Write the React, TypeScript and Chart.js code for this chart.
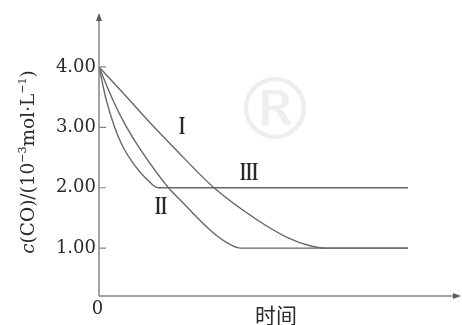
import React, { useEffect, useRef } from "react";
import { Chart, registerables } from "chart.js";

Chart.register(...registerables);

const W = 462;
const H = 325;

// Curve I
const curveITimes = [0, 3.0, 5.2, 7.4, 11.5, 15.8, 18.8, 21.1, 22.6, 30.9];
const curveIValues = [4.0, 3.46, 3.06, 2.68, 2.0, 1.47, 1.18, 1.04, 1.0, 1.0];
// Curve II
const curveIITimes = [0, 1.4, 2.7, 4.0, 6.95, 8.35, 9.85, 11.45, 12.7, 14.2, 30.9];
const curveIIValues = [4.0, 3.45, 3.02, 2.67, 2.0, 1.76, 1.5, 1.25, 1.1, 1.0, 1.0];
// Curve III
const curveIIITimes = [0, 0.73, 1.53, 2.33, 3.53, 4.73, 5.93, 30.9];
const curveIIIValues = [4.0, 3.45, 3.02, 2.7, 2.38, 2.15, 2.0, 2.0];

const yTickValues = [1, 2, 3, 4];
const curveLabels = ["I", "II", "III"];
const curveLabelTimes = [8.3, 6.2, 15.0];
const curveLabelValues = [3.0, 1.67, 2.23];
const xOriginLabel = "0";
const xAxisTitle = "时间";
const yTitleParts = [
  { text: "c", italic: true, sup: false },
  { text: "(CO)/(10", italic: false, sup: false },
  { text: "−3", italic: false, sup: true },
  { text: "mol·L", italic: false, sup: false },
  { text: "−1", italic: false, sup: true },
  { text: ")", italic: false, sup: false },
];
const watermarkText = "®";

const toPoints = (ts: number[], vs: number[]) => ts.map((t, i) => ({ x: t, y: vs[i] }));

export default function App() {
  const ref = useRef<HTMLCanvasElement>(null);

  useEffect(() => {
    const canvas = ref.current;
    if (!canvas) return;
    const axisColor = "#858585";
    const textColor = "#2a2a2a";

    const overlay = {
      id: "overlay",
      beforeDatasetsDraw(chart: any) {
        const ctx = chart.ctx;
        const xs = chart.scales.x;
        const ys = chart.scales.y;
        ctx.save();
        ctx.fillStyle = "#eeeeee";
        ctx.font = "86px 'DejaVu Sans'";
        ctx.textAlign = "center";
        ctx.textBaseline = "middle";
        ctx.fillText(watermarkText, xs.getPixelForValue(17.6), ys.getPixelForValue(3.18));
        ctx.restore();
      },
      afterDraw(chart: any) {
        const ctx = chart.ctx;
        const { left, right, top, bottom } = chart.chartArea;
        const xs = chart.scales.x;
        const ys = chart.scales.y;
        ctx.save();
        // axes
        ctx.strokeStyle = axisColor;
        ctx.lineWidth = 1.5;
        ctx.beginPath();
        ctx.moveTo(left, bottom);
        ctx.lineTo(left, top + 3);
        ctx.moveTo(left, bottom);
        ctx.lineTo(right - 3, bottom);
        ctx.stroke();
        ctx.fillStyle = "#5a5a5a";
        ctx.beginPath();
        ctx.moveTo(left, top - 2);
        ctx.lineTo(left - 3, top + 6);
        ctx.lineTo(left + 3, top + 6);
        ctx.closePath();
        ctx.fill();
        ctx.beginPath();
        ctx.moveTo(right + 1, bottom);
        ctx.lineTo(right - 7, bottom - 3);
        ctx.lineTo(right - 7, bottom + 3);
        ctx.closePath();
        ctx.fill();
        // tick marks
        ctx.lineWidth = 1.2;
        ctx.beginPath();
        yTickValues.forEach((v) => {
          const py = ys.getPixelForValue(v);
          ctx.moveTo(left, py);
          ctx.lineTo(left + 7, py);
        });
        ctx.stroke();
        // origin label and x title
        ctx.fillStyle = textColor;
        ctx.textAlign = "center";
        ctx.textBaseline = "middle";
        ctx.font = "18px 'DejaVu Serif'";
        ctx.fillText(xOriginLabel, xs.getPixelForValue(0) - 1.5, bottom + 13);
        ctx.font = "21px 'Noto Sans CJK SC'";
        ctx.fillText(xAxisTitle, xs.getPixelForValue(17.7), bottom + 19);
        // curve labels
        ctx.font = "bold 25px 'Liberation Serif'";
        curveLabels.forEach((lab, i) => {
          ctx.save();
          ctx.translate(xs.getPixelForValue(curveLabelTimes[i]), ys.getPixelForValue(curveLabelValues[i]));
          ctx.scale(0.62, 1);
          ctx.fillText(lab, 0, 0);
          ctx.restore();
        });
        // y title
        const fontFor = (p: any) =>
          p.sup ? "11px 'DejaVu Serif'" : (p.italic ? "italic " : "") + "18.5px 'DejaVu Serif'";
        let total = 0;
        const widths = yTitleParts.map((p) => {
          ctx.font = fontFor(p);
          const w = ctx.measureText(p.text).width;
          total += w;
          return w;
        });
        ctx.translate(29, 162);
        ctx.rotate(-Math.PI / 2);
        ctx.textAlign = "left";
        let x = -total / 2;
        yTitleParts.forEach((p, i) => {
          ctx.font = fontFor(p);
          ctx.fillText(p.text, x, p.sup ? -6 : 0);
          x += widths[i];
        });
        ctx.restore();
      },
    };

    const lineStyle = {
      borderColor: "#676767",
      borderWidth: 1.4,
      pointRadius: 0,
      fill: false,
      cubicInterpolationMode: "monotone" as const,
    };

    const chart = new Chart(canvas, {
      type: "line",
      data: {
        datasets: [
          { label: "I", data: toPoints(curveITimes, curveIValues), ...lineStyle },
          { label: "II", data: toPoints(curveIITimes, curveIIValues), ...lineStyle },
          { label: "III", data: toPoints(curveIIITimes, curveIIIValues), ...lineStyle },
        ],
      },
      options: {
        animation: false,
        responsive: false,
        layout: { padding: { left: 0, top: 15, right: 2, bottom: 0 } },
        plugins: { legend: { display: false }, tooltip: { enabled: false } },
        scales: {
          x: {
            type: "linear",
            min: 0,
            max: 36.1,
            grid: { display: false },
            border: { display: false },
            ticks: { display: false },
            afterFit: (s: any) => {
              s.height = 29;
            },
          },
          y: {
            type: "linear",
            min: 0.208,
            max: 4.86,
            grid: { display: false, drawTicks: false },
            border: { display: false },
            afterBuildTicks: (s: any) => {
              s.ticks = yTickValues.map((v) => ({ value: v }));
            },
            ticks: {
              font: { family: "DejaVu Serif", size: 18 },
              color: textColor,
              padding: 3,
              callback: (v: any) => Number(v).toFixed(2),
            },
            afterFit: (s: any) => {
              s.width = 99;
            },
          },
        },
      },
      plugins: [overlay],
    });
    return () => chart.destroy();
  }, []);

  return (
    <div style={{ position: "fixed", left: 0, top: 0, width: W, height: H, background: "#fff" }}>
      <canvas ref={ref} width={W} height={H} style={{ width: W, height: H, display: "block" }} />
    </div>
  );
}
